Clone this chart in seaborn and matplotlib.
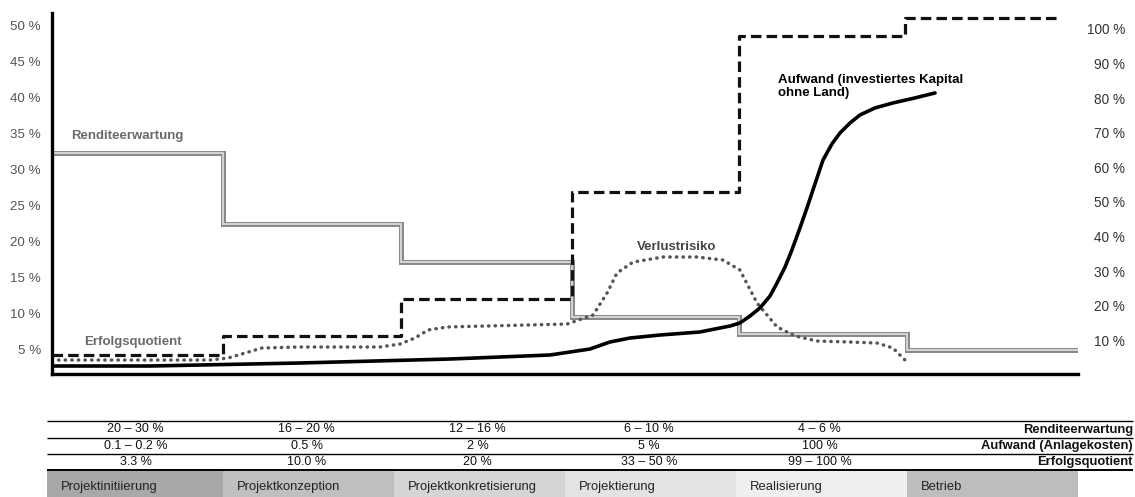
import matplotlib
matplotlib.use("Agg")
import matplotlib.pyplot as plt
import seaborn as sns
import pandas as pd

# ---------------- data ----------------
phase_names = ["Projektinitiierung", "Projektkonzeption", "Projektkonkretisierung",
               "Projektierung", "Realisierung", "Betrieb"]
phase_colors = ["#a8a8a8", "#bfbfbf", "#d5d5d5", "#e3e3e3", "#efefef", "#bdbdbd"]

# Renditeerwartung (left axis, %), step function per phase
rendite_edges = [0, 1.0, 2.04, 3.04, 4.02, 5.0, 6.0]
rendite = [32.2, 22.4, 17.1, 9.5, 7.1, 4.8]

# Erfolgsquotient (right axis, %), step function per phase
erfolg_edges = [0, 1.0, 2.04, 3.04, 4.02, 4.99, 5.89]
erfolg = [5.8, 11.3, 22.0, 52.9, 98.0, 103.2]

# Verlustrisiko (left axis, %)
verlust_x = [0.0, 0.924, 1.029, 1.129, 1.228, 1.450, 1.918, 2.035, 2.123, 2.199, 2.310,
             3.012, 3.164, 3.246, 3.304, 3.398, 3.573, 3.772, 3.924, 4.023, 4.123,
             4.240, 4.345, 4.474, 4.667, 4.825, 4.918, 4.988]
verlust_y = [3.47, 3.47, 3.75, 4.44, 5.14, 5.28, 5.28, 5.69, 6.53, 7.64, 8.06,
             8.47, 9.72, 12.78, 15.56, 17.08, 17.78, 17.78, 17.36, 15.97, 11.39,
             8.06, 6.81, 6.11, 5.97, 5.83, 5.14, 3.47]

# Aufwand, investiertes Kapital (right axis, %)
aufwand_x = [0.0, 0.573, 1.450, 2.327, 2.912, 3.146, 3.263, 3.380, 3.556, 3.789, 3.965,
             4.023, 4.082, 4.140, 4.199, 4.240, 4.287, 4.327, 4.374, 4.415, 4.450,
             4.509, 4.561, 4.608, 4.667, 4.725, 4.813, 4.918, 5.047, 5.164]
aufwand_y = [2.60, 2.60, 3.47, 4.62, 5.78, 7.51, 9.54, 10.69, 11.56, 12.43, 14.16,
             15.03, 17.05, 19.36, 22.83, 26.59, 31.21, 36.13, 42.49, 48.27, 53.47,
             62.14, 66.76, 69.94, 72.83, 75.14, 77.17, 78.61, 80.06, 81.50]

row_labels = ["Renditeerwartung", "Aufwand (Anlagekosten)", "Erfolgsquotient"]
row_rendite = ["20 – 30 %", "16 – 20 %", "12 – 16 %", "6 – 10 %", "4 – 6 %"]
row_aufwand = ["0.1 – 0.2 %", "0.5 %", "2 %", "5 %", "100 %"]
row_erfolg = ["3.3 %", "10.0 %", "20 %", "33 – 50 %", "99 – 100 %"]

left_ticks = [5, 10, 15, 20, 25, 30, 35, 40, 45, 50]
right_ticks = [10, 20, 30, 40, 50, 60, 70, 80, 90, 100]

# ---------------- style ----------------
sns.set_theme(style="white")
plt.rcParams["font.family"] = ["Liberation Sans", "DejaVu Sans"]

W, H = 1135, 497
fig = plt.figure(figsize=(W / 100, H / 100), dpi=100)

ax_l, ax_r, ax_b, ax_t = 52, 1078, 374, 13
ax = fig.add_axes([ax_l / W, 1 - ax_b / H, (ax_r - ax_l) / W, (ax_b - ax_t) / H])
ax2 = ax.twinx()

ax.set_xlim(0, 6)
ax.set_ylim(1.53, 51.67)
ax2.set_ylim(0.29, 104.6)

# Renditeerwartung – hollow grey step line
df_r = pd.DataFrame({"x": rendite_edges, "y": rendite + [rendite[-1]]})
sns.lineplot(data=df_r, x="x", y="y", ax=ax, drawstyle="steps-post", sort=False,
             estimator=None, color="#8a8a8a", linewidth=3.6, solid_joinstyle="miter")
sns.lineplot(data=df_r, x="x", y="y", ax=ax, drawstyle="steps-post", sort=False,
             estimator=None, color="#dadada", linewidth=1.3, solid_joinstyle="miter")

# Verlustrisiko – dotted
df_v = pd.DataFrame({"x": verlust_x, "y": verlust_y})
sns.lineplot(data=df_v, x="x", y="y", ax=ax, sort=False, estimator=None,
             color="#555555", linewidth=2.5, linestyle=(0, (0.1, 1.8)),
             dash_capstyle="round")

# Erfolgsquotient – dashed step
df_e = pd.DataFrame({"x": erfolg_edges, "y": erfolg + [erfolg[-1]]})
sns.lineplot(data=df_e, x="x", y="y", ax=ax2, drawstyle="steps-post", sort=False,
             estimator=None, color="#111111", linewidth=2.3, linestyle=(0, (3.3, 1.6)))

# Aufwand – solid
df_a = pd.DataFrame({"x": aufwand_x, "y": aufwand_y})
sns.lineplot(data=df_a, x="x", y="y", ax=ax2, sort=False, estimator=None,
             color="#000000", linewidth=2.6, solid_capstyle="round",
             solid_joinstyle="round")

for a in (ax, ax2):
    a.set_xlabel("")
    a.set_ylabel("")
    a.grid(False)
    for s in a.spines.values():
        s.set_visible(False)

ax.spines["left"].set_visible(True)
ax.spines["bottom"].set_visible(True)
ax.spines["left"].set_linewidth(2.4)
ax.spines["bottom"].set_linewidth(2.4)
ax.spines["left"].set_color("black")
ax.spines["bottom"].set_color("black")
ax.set_xticks([])

ax.set_yticks(left_ticks)
ax.set_yticklabels([f"{t} %" for t in left_ticks])
ax.tick_params(axis="y", length=0, pad=8, labelsize=9.6, labelcolor="#555555")

ax2.set_yticks(right_ticks)
ax2.set_yticklabels([f"{t} %" for t in right_ticks])
ax2.tick_params(axis="y", length=0, pad=34, labelsize=9.8, labelcolor="#333333")
for lab in ax2.get_yticklabels():
    lab.set_horizontalalignment("right")

# annotations
ax.text(0.111, 34.6, "Renditeerwartung", fontsize=9.5, fontweight="bold",
        color="#6a6a6a", va="center", ha="left")
ax.text(0.187, 5.97, "Erfolgsquotient", fontsize=9.5, fontweight="bold",
        color="#6a6a6a", va="center", ha="left")
ax.text(3.42, 19.2, "Verlustrisiko", fontsize=9.5, fontweight="bold",
        color="#444444", va="center", ha="left")
ax.text(4.246, 41.5, "Aufwand (investiertes Kapital\nohne Land)", fontsize=9.5,
        fontweight="bold", color="#000000", va="center", ha="left", linespacing=1.15)

# ---------------- table below ----------------
tax = fig.add_axes([0, 0, 1, 87 / H])
tax.set_xlim(-52 / 171, (W - 52) / 171)
tax.set_ylim(497, 410)
tax.axis("off")

x0, x1 = -0.03, (1133 - 52) / 171
for yy, lw in [(421, 1.0), (438, 1.0), (454, 1.0), (470, 1.4)]:
    tax.hlines(yy, x0, x1, color="black", linewidth=lw)

phase_left = [-0.03, 1.0, 2.0, 3.0, 4.0, 5.0]
phase_right = [1.0, 2.0, 3.0, 4.0, 5.0, 6.0]
widths = [r - l for l, r in zip(phase_left, phase_right)]
tax.bar(phase_left, [27] * 6, width=widths, bottom=470, align="edge",
        color=phase_colors, edgecolor="none")
for l, name in zip(phase_left, phase_names):
    tax.text(l + 0.08, 487, name, fontsize=9.4, color="#222222", va="center", ha="left")

row_y = [429.5, 446, 462]
for ry, vals, lab in zip(row_y, [row_rendite, row_aufwand, row_erfolg], row_labels):
    for i, v in enumerate(vals):
        tax.text(i + 0.49, ry, v, fontsize=9.0, color="#111111", ha="center", va="center")
    tax.text(x1, ry, lab, fontsize=9.4, fontweight="bold", color="#111111",
             ha="right", va="center")

fig.savefig("out.png", dpi=100)
